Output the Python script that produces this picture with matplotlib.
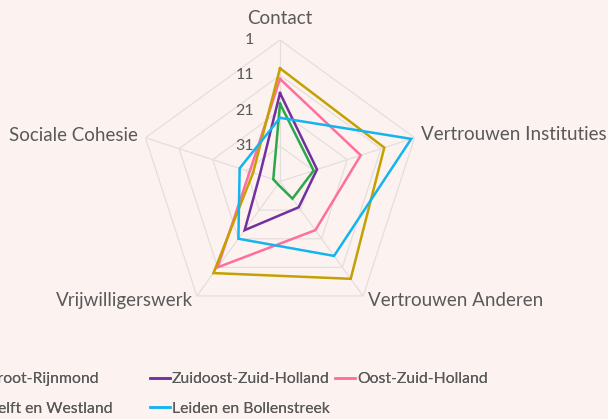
import numpy as np
import matplotlib
matplotlib.use("Agg")
import matplotlib.pyplot as plt

# Ranks per region (1 = best, 40 = worst) on five social indicators
categories = ["Contact", "Vertrouwen Instituties", "Vertrouwen Anderen",
              "Vrijwilligerswerk", "Sociale Cohesie"]
groot_rijnmond = [19, 31, 35, 40, 39]
zuidoost_zuid_holland = [16, 30, 32, 24, 35]
oost_zuid_holland = [12, 17, 24, 11, 32]
delft_en_westland = [9, 10, 7, 9, 33]
leiden_en_bollenstreek = [23, 2, 15, 21, 29]
rank_ticks = [1, 11, 21, 31]
rank_min, rank_max = 1, 41

series = [
    ("Groot-Rijnmond", groot_rijnmond, "#2BA84A"),
    ("Zuidoost-Zuid-Holland", zuidoost_zuid_holland, "#7030A0"),
    ("Oost-Zuid-Holland", oost_zuid_holland, "#FF6F9C"),
    ("Delft en Westland", delft_en_westland, "#C4A000"),
    ("Leiden en Bollenstreek", leiden_en_bollenstreek, "#14B4EE"),
]

BG = "#FCF3F1"
TXT = "#595959"
GRID = "#E4DEDC"
FONT = "Lato"
FS_CAT = 13.5
FS_TICK = 11.5
FS_LEG = 11.3

plt.rcParams["font.family"] = [FONT, "DejaVu Sans"]

W, H = 608, 419
fig = plt.figure(figsize=(W / 100, H / 100), dpi=100, facecolor=BG)

cx, cy, rad = 280, 181.5, 141.5
ax = fig.add_axes([(cx - rad) / W, (H - cy - rad) / H, 2 * rad / W, 2 * rad / H],
                  projection="polar")
ax.set_facecolor("none")
ax.set_theta_zero_location("N")
ax.set_theta_direction(-1)
ax.set_ylim(rank_max, rank_min)  # best rank on the outside
ax.grid(False)
ax.spines["polar"].set_visible(False)
ax.set_xticks([])
ax.set_yticks([])

n = len(categories)
angles = np.arange(n) * 2 * np.pi / n
closed = np.append(angles, angles[0])

# pentagon grid and spokes
for r in rank_ticks:
    ax.plot(closed, [r] * (n + 1), color=GRID, lw=0.9, zorder=1)
for a in angles:
    ax.plot([a, a], [rank_max, rank_min], color=GRID, lw=0.9, zorder=1)

handles = {}
for name, vals, col in series:
    v = list(vals) + [vals[0]]
    (ln,) = ax.plot(closed, v, color=col, lw=1.8, solid_joinstyle="miter",
                    zorder=3, label=name, clip_on=False)
    handles[name] = ln

# radial tick labels along the Contact axis
for r in rank_ticks:
    ax.annotate(str(r), xy=(0, r), xytext=(-26, 0), textcoords="offset pixels",
                ha="right", va="center", fontsize=FS_TICK, color=TXT)

# category labels
label_pos = [
    ((0, 21), "center", "center"),
    ((6, 3), "left", "center"),
    ((5, -5), "left", "center"),
    ((-4, -5), "right", "center"),
    ((-8, 2), "right", "center"),
]
for a, cat, (off, ha, va) in zip(angles, categories, label_pos):
    ax.annotate(cat, xy=(a, rank_min), xytext=off, textcoords="offset pixels",
                ha=ha, va=va, fontsize=FS_CAT, color=TXT, annotation_clip=False)

# legend in three columns along the bottom
px = FS_LEG * 100 / 72
leg_kw = dict(frameon=False, borderpad=0, borderaxespad=0,
              handlelength=20 / px, handletextpad=2 / px,
              labelspacing=1.0, fontsize=FS_LEG, labelcolor=TXT,
              bbox_transform=fig.transFigure)
columns = [
    (["Groot-Rijnmond", "Delft en Westland"], "upper right", 113),
    (["Zuidoost-Zuid-Holland", "Leiden en Bollenstreek"], "upper left", 150),
    (["Oost-Zuid-Holland"], "upper left", 335),
]
top_y = 372
for names, loc, x in columns:
    leg = fig.legend([handles[nm] for nm in names], names, loc=loc,
                     bbox_to_anchor=(x / W, 1 - top_y / H), **leg_kw)
    fig.add_artist(leg)

fig.savefig("out.png", dpi=100, facecolor=BG)
